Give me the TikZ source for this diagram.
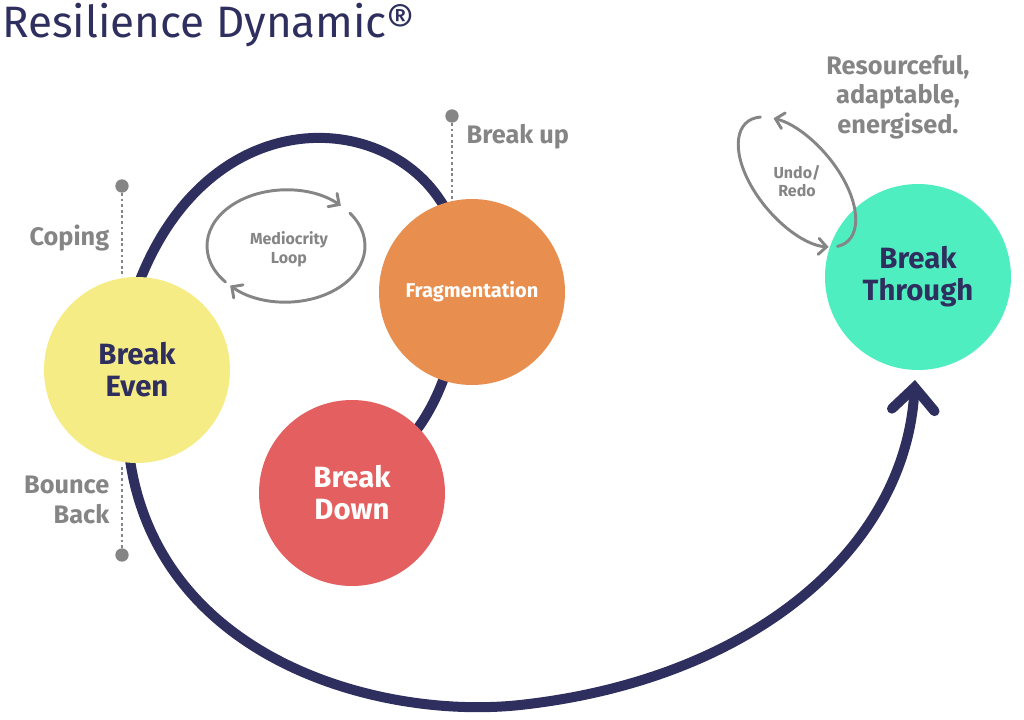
\documentclass[tikz,border=0pt]{standalone}
\usepackage{fontspec}
\setmainfont{Fira Sans}
\usetikzlibrary{arrows.meta}
\definecolor{navy}{HTML}{2E2F5E}
\definecolor{labelgray}{HTML}{858585}
\definecolor{evenyellow}{HTML}{F6EC85}
\definecolor{fragorange}{HTML}{E88E4E}
\definecolor{downred}{HTML}{E45F5F}
\definecolor{throughmint}{HTML}{4FEEC0}
\tikzset{
  phase/.style={circle, minimum size=139.5pt, inner sep=0pt, align=center, font=\bfseries\fontsize{22}{24}\selectfont},
  side/.style={text=labelgray, font=\bfseries\fontsize{19}{22}\selectfont, align=right},
  marker/.style={fill=labelgray, circle, inner sep=0pt, minimum size=10pt},
  loop/.style={labelgray, line width=2.2pt, -{Straight Barb[length=6pt,width=12pt,line cap=round]}, line cap=round},
}
\begin{document}
\begin{tikzpicture}[x=0.75pt,y=0.75pt]
\useasboundingbox (0,0) rectangle (1024,719);
\node[anchor=base west, text=navy, font=\fontsize{33}{35}\selectfont, inner sep=0pt] (title) at (2,681) {Resilience Dynamic®};

% the big spiral, behind the circles
\draw[navy, line width=7.5pt, line cap=round, -{Straight Barb[length=17pt,width=32pt,line cap=round]}]
  (415,287) .. controls (470,359) and (470,479) .. (440,519)
  .. controls (380,610) and (210,615) .. (140,439)
  -- (130,259)
  .. controls (160,59) and (380,-1) .. (520,14)
  .. controls (750,39) and (905,169) .. (915,339);

% dotted markers
\node[marker] (copingdot) at (122,533) {};
\node[marker] (bouncedot) at (122,164) {};
\node[marker] (updot) at (452,603) {};
\coordinate (copingend) at (122,444);
\coordinate (bounceend) at (122,254);
\coordinate (upend) at (452,514);
\draw[labelgray, line width=2.2pt, dotted] (copingdot) -- (copingend);
\draw[labelgray, line width=2.2pt, dotted] (bouncedot) -- (bounceend);
\draw[labelgray, line width=2.2pt, dotted] (updot) -- (upend);

\node[phase, fill=evenyellow, text=navy] (even) at (137,349) {Break\\Even};
\node[phase, fill=fragorange, text=white, font=\bfseries\fontsize{15}{17}\selectfont] (frag) at (472,427) {Fragmentation};
\node[phase, fill=downred, text=white] (down) at (352,226) {Break\\Down};
\node[phase, fill=throughmint, text=navy] (through) at (918,442) {Break\\Through};

\node[side, anchor=east] (coping) at (114,481) {Coping};
\node[side, anchor=east] (bounce) at (114,219) {Bounce\\Back};
\node[side, anchor=west] (breakup) at (462,582) {Break up};
\node[side, align=center] (resource) at (898,622) {Resourceful,\\adaptable,\\energised.};

% loops
\node[text=labelgray, font=\bfseries\fontsize{12}{14}\selectfont, align=center] (medio) at (289,470) {Mediocrity\\Loop};
\draw[loop] (286,473) ++(220:79 and 56) arc (220:46:79 and 56);
\draw[loop] (286,473) ++(36:79 and 56) arc (36:-135:79 and 56);
\node[text=labelgray, font=\bfseries\fontsize{12}{14}\selectfont, align=center] (undo) at (797,538) {Undo/\\Redo};
\begin{scope}[shift={(797,537)}, rotate=-50]
\draw[loop] (-15:78 and 40) arc (-15:145:78 and 40);
\draw[loop] (160:78 and 40) arc (160:334:78 and 40);
\end{scope}
\end{tikzpicture}
\end{document}
